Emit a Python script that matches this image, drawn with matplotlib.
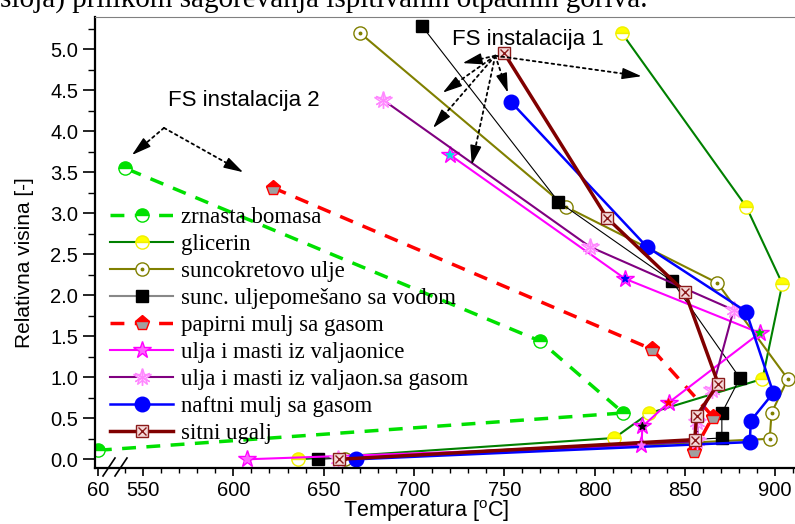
import numpy as np
import matplotlib
matplotlib.use('Agg')
import matplotlib.pyplot as plt
from matplotlib.lines import Line2D
from matplotlib.legend_handler import HandlerTuple

plt.rcParams['font.family'] = 'Liberation Sans'
plt.rcParams['mathtext.fontset'] = 'custom'
plt.rcParams['mathtext.rm'] = 'Liberation Sans'

# temperatura [C] / relativna visina [-] za svako gorivo
zrnasta_t = [60, 816, 770, 540]
zrnasta_h = [0.11, 0.565, 1.44, 3.55]
glicerin_t = [815, 884, 904, 893, 830, 811, 636]
glicerin_h = [5.2, 3.08, 2.14, 0.98, 0.56, 0.26, 0.0]
suncokret_t = [670, 784, 868, 907, 898, 897, 662]
suncokret_h = [5.2, 3.08, 2.15, 0.98, 0.565, 0.25, 0.0]
voda_t = [704.5, 780, 843, 880.5, 870.5, 870.5, 647]
voda_h = [5.28, 3.14, 2.17, 0.99, 0.565, 0.26, 0.0]
papir_t = [622, 832, 865.5, 855]
papir_h = [3.31, 1.34, 0.52, 0.10]
valj_t = [720, 817, 891.5, 841, 826.5, 826, 607.5]
valj_h = [3.71, 2.2, 1.54, 0.69, 0.40, 0.17, 0.0]
valj_gas_t = [683, 797.5, 877, 865, 857, 857, 658]
valj_gas_h = [4.38, 2.59, 1.82, 0.84, 0.45, 0.22, 0.0]
nafta_t = [754, 829, 884, 899, 886.5, 886, 668]
nafta_h = [4.35, 2.59, 1.8, 0.81, 0.47, 0.21, 0.0]
ugalj_t = [750, 807, 850, 868.5, 856.5, 855.5, 658.5]
ugalj_h = [4.95, 2.94, 2.04, 0.92, 0.53, 0.24, 0.0]

labels = ['zrnasta bomasa', 'glicerin', 'suncokretovo ulje',
          'sunc. uljepomešano sa vodom', 'papirni mulj sa gasom',
          'ulja i masti iz valjaonice', 'ulja i masti iz valjaon.sa gasom',
          'naftni mulj sa gasom', 'sitni ugalj']

x_ticks = [60, 550, 600, 650, 700, 750, 800, 850, 900]

BREAK_SHIFT = 465  # tacka na 60 C se crta lijevo od prekida ose


def xp(t):
    t = np.asarray(t, dtype=float)
    return np.where(t < 100, t + BREAK_SHIFT, t)


fig = plt.figure(figsize=(7.95, 5.24), dpi=100)
ax = fig.add_axes([95 / 795, 56 / 524, 700 / 795, 451 / 524])

h_zr, = ax.plot(xp(zrnasta_t), zrnasta_h, color='#00e000', lw=2.5, dashes=(4, 3),
                marker='o', ms=9.5, fillstyle='top', mfc='#00e000', mfcalt='white', mec='#00e000')
h_gl, = ax.plot(xp(glicerin_t), glicerin_h, color='#008000', lw=1.5,
                marker='o', ms=9.5, fillstyle='top', mfc='#ffff00', mfcalt='white', mec='#f0f000')
h_su, = ax.plot(xp(suncokret_t), suncokret_h, color='#808000', lw=1.5,
                marker='o', ms=9.5, mfc='white', mec='#808000', mew=1)
h_su2, = ax.plot(xp(suncokret_t), suncokret_h, ls='none', marker='o', ms=1.8, color='#808000')
ax.plot(xp(voda_t), voda_h, color='black', lw=0.8, marker='s', ms=8, mfc='black', mec='black')
h_vo = Line2D([], [], color='#888888', lw=1.5, marker='s', ms=8, mfc='black', mec='black')
h_pa, = ax.plot(xp(papir_t), papir_h, color='#ff0000', lw=2.5, dashes=(4, 3),
                marker='p', ms=11, fillstyle='top', mfc='#ff0000', mfcalt='#a0a0a0', mec='#ff0000')
h_va, = ax.plot(xp(valj_t), valj_h, color='#ff00ff', lw=1.5,
                marker='*', ms=13, mfc='#ff66ff', mec='#ff00ff')
ax.scatter(xp(valj_t), valj_h, marker='*', s=30, zorder=3,
           c=['#00e0e0', '#0000ff', '#00c000', '#ff0000', '#000000', '#ff66ff', '#ff66ff'])
h_vg, = ax.plot(xp(valj_gas_t), valj_gas_h, color='#800080', lw=1.5,
                marker='*', ms=13, mfc='#ffd6ff', mec='#ff88ff')
h_vg2, = ax.plot(xp(valj_gas_t), valj_gas_h, ls='none', marker=(6, 2, 0), ms=12,
                 mec='#ff88ff', mew=1)
h_na, = ax.plot(xp(nafta_t), nafta_h, color='#0000ff', lw=1.8,
                marker='o', ms=10.5, mfc='#0000ff', mec='#0000ff')
h_ug, = ax.plot(xp(ugalj_t), ugalj_h, color='#800000', lw=2.5,
                marker='s', ms=8.5, mfc='#f5dada', mec='#8b1a1a', mew=1)
h_ug2, = ax.plot(xp(ugalj_t), ugalj_h, ls='none', marker='x', ms=6, mec='#8b1a1a', mew=1)

ax.set_xlim(523.4, 911)
ax.set_ylim(-0.106, 5.392)
ax.set_xticks(xp(x_ticks))
ax.set_xticklabels([str(t) for t in x_ticks])
ax.set_xticks(np.arange(540, 911, 10), minor=True)
ax.set_yticks(np.arange(0, 5.01, 0.5))
ax.set_yticklabels(['%.1f' % v for v in np.arange(0, 5.01, 0.5)])
ax.set_yticks(np.arange(0, 5.3, 0.25), minor=True)
ax.tick_params(axis='x', which='major', direction='out', length=6, width=1.2, labelsize=14.5, pad=3)
ax.tick_params(axis='x', which='minor', direction='out', length=3.5, width=1.0)
ax.tick_params(axis='y', which='major', direction='out', length=9, width=1.2, labelsize=14.5, pad=3)
ax.tick_params(axis='y', which='minor', direction='out', length=5, width=1.0)
ax.spines['left'].set_linewidth(1.6)
ax.spines['bottom'].set_linewidth(1.6)
ax.spines['top'].set_linewidth(0.8)
ax.spines['top'].set_color('#808080')
ax.spines['right'].set_visible(False)

# oznaka prekida ose
for x0 in (103, 115):
    fig.add_artist(Line2D([x0 / 795, (x0 + 12) / 795], [1 - 476 / 524, 1 - 458 / 524],
                          transform=fig.transFigure, color='black', lw=1.2))


def dotted_arrow(start, end):
    # isprekidana linija + puna strelica na kraju
    ax.annotate('', xy=end, xytext=start,
                arrowprops=dict(arrowstyle='-', ls=(0, (1.5, 2)), lw=1.3, color='black',
                                shrinkA=0, shrinkB=4))
    p0 = ax.transData.transform(start)
    p1 = ax.transData.transform(end)
    d = (p0 - p1) / np.hypot(*(p0 - p1))
    ax.annotate('', xy=end, xytext=tuple(d * 8 * 72 / 100), textcoords='offset points',
                arrowprops=dict(arrowstyle='-|>,head_length=1.2,head_width=0.35', lw=1.0,
                                color='black', shrinkA=0, shrinkB=0))


ax.text(763, 5.12, 'FS instalacija 1', ha='center', va='center', fontsize=16)
for hx, hy in [(727, 4.83), (716, 4.47), (710.6, 4.04), (732, 3.59), (752, 4.47), (826, 4.67)]:
    dotted_arrow((745, 4.92), (hx, hy))
ax.text(606, 4.38, 'FS instalacija 2', ha='center', va='center', fontsize=16)
for hx, hy in [(543.9, 3.71), (605.4, 3.50)]:
    dotted_arrow((561.6, 4.04), (hx, hy))

handles = [h_zr, h_gl, (h_su, h_su2), h_vo, h_pa, h_va, (h_vg, h_vg2), h_na, (h_ug, h_ug2)]
ax.legend(handles, labels, loc='upper left', bbox_to_anchor=(0.0215, 0.578), frameon=False,
          prop={'family': 'Liberation Serif', 'size': 16.5}, handlelength=2.75,
          handletextpad=0.35, labelspacing=0.26, borderpad=0, borderaxespad=0,
          handler_map={tuple: HandlerTuple(ndivide=1)})

fig.text(426 / 795, 1 - 511 / 524, r'Temperatura [$^{\rm o}$C]', ha='center', va='center', fontsize=15.5)
fig.text(25 / 795, 1 - 263 / 524, 'Relativna visina [-]', rotation=90, ha='center', va='center', fontsize=15)
fig.text(0.0, 1 - 7 / 524, 'sloja) prilikom sagorevanja ispitivanih otpadnih goriva.',
         ha='left', va='baseline', fontsize=21, family='Liberation Serif')

fig.savefig('out.png', dpi=100)
